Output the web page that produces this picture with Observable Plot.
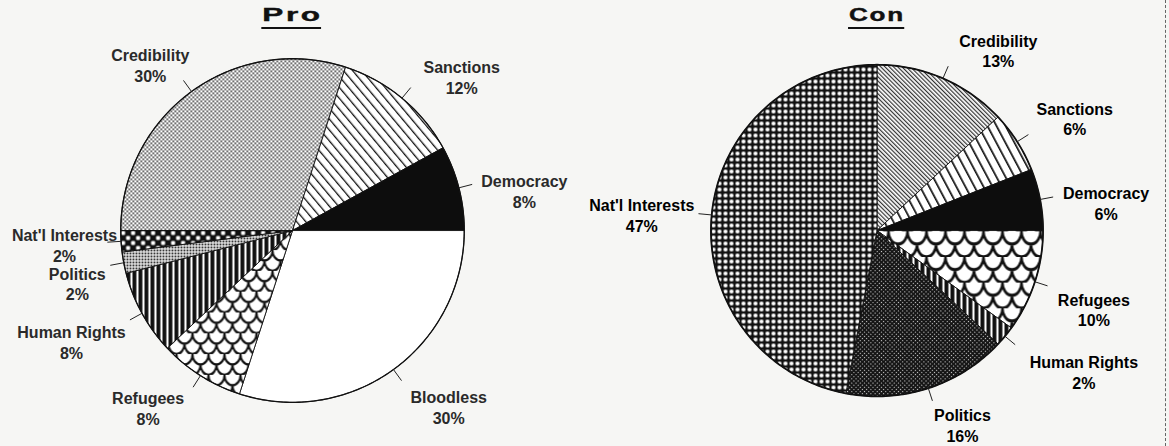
<!DOCTYPE html>
<html><head><meta charset="utf-8">
<script src="https://cdn.jsdelivr.net/npm/d3@7"></script>
<script src="https://cdn.jsdelivr.net/npm/@observablehq/plot@0.6"></script>
<style>
html,body{margin:0;padding:0;background:#f6f6f4;}
#wrap{position:relative;width:1169px;height:446px;display:flex;overflow:hidden;background:#f6f6f4;}
#wrap svg{display:block;}
.edge{position:absolute;top:0;bottom:0;left:1165px;width:0;border-left:1px dashed #666;}
</style></head><body>
<svg width="0" height="0" style="position:absolute">
<defs>
  <pattern id="proCred" width="4" height="4" patternUnits="userSpaceOnUse">
    <rect width="4" height="4" fill="#fff"/>
    <rect x="0" y="0" width="1.6" height="1.6" fill="#222"/>
    <rect x="2" y="2" width="1.6" height="1.6" fill="#222"/>
  </pattern>
  <pattern id="conCred" width="3" height="3" patternUnits="userSpaceOnUse" patternTransform="rotate(-45)">
    <rect width="3" height="3" fill="#fff"/>
    <rect x="0" y="0" width="1.2" height="3" fill="#333"/>
  </pattern>
  <pattern id="proSanc" width="7" height="7" patternUnits="userSpaceOnUse" patternTransform="rotate(-40)">
    <rect width="7" height="7" fill="#fff"/>
    <rect x="0" y="0" width="1.3" height="7" fill="#111"/>
  </pattern>
  <pattern id="conSanc" width="8" height="8" patternUnits="userSpaceOnUse" patternTransform="rotate(-28)">
    <rect width="8" height="8" fill="#fff"/>
    <rect x="0" y="0" width="1.7" height="8" fill="#111"/>
  </pattern>
  <pattern id="proRef" width="16" height="16" patternUnits="userSpaceOnUse" patternTransform="scale(1,1.3)">
    <rect width="16" height="16" fill="#fff"/>
    <path d="M0,0 A8,8 0 0 0 16,0 M-8,8 A8,8 0 0 0 8,8 M8,8 A8,8 0 0 0 24,8" fill="none" stroke="#111" stroke-width="2"/>
  </pattern>
  <pattern id="conRef" width="19" height="19" patternUnits="userSpaceOnUse" patternTransform="scale(1,1.35)">
    <rect width="19" height="19" fill="#fff"/>
    <path d="M0,0 A9.5,9.5 0 0 0 19,0 M-9.5,9.5 A9.5,9.5 0 0 0 9.5,9.5 M9.5,9.5 A9.5,9.5 0 0 0 28.5,9.5" fill="none" stroke="#111" stroke-width="2.4"/>
  </pattern>
  <pattern id="hr" width="6" height="6" patternUnits="userSpaceOnUse">
    <rect width="6" height="6" fill="#fff"/>
    <rect x="0" y="0" width="3.9" height="6" fill="#111"/>
  </pattern>
  <pattern id="proPol" width="3" height="3" patternUnits="userSpaceOnUse">
    <rect width="3" height="3" fill="#fff"/>
    <rect x="0" y="0" width="1.9" height="1.9" fill="#222"/>
  </pattern>
  <pattern id="conPol" width="3" height="3" patternUnits="userSpaceOnUse" patternTransform="rotate(45)">
    <rect width="3" height="3" fill="#141414"/>
    <rect x="0" y="0" width="1.1" height="1.1" fill="#ccc"/>
  </pattern>
  <pattern id="proNI" width="10" height="10" patternUnits="userSpaceOnUse">
    <rect width="10" height="10" fill="#111"/>
    <rect x="0.6" y="0.6" width="4" height="4" rx="1" fill="#fff"/>
    <rect x="5.6" y="5.6" width="4" height="4" rx="1" fill="#fff"/>
  </pattern>
  <pattern id="conNI" width="6" height="6" patternUnits="userSpaceOnUse">
    <rect width="6" height="6" fill="#111"/>
    <circle cx="3" cy="3" r="2.1" fill="#fff"/>
  </pattern>
</defs>
</svg>
<div id="wrap"><div class="edge"></div></div>
<script>
// ---- data ----
const categories = ["Credibility", "Sanctions", "Democracy", "Bloodless", "Refugees", "Human Rights", "Politics", "Nat'l Interests"];
const proValues = [30, 12, 8, 30, 8, 8, 2, 2];
const conValues = [13, 6, 6, 0, 10, 2, 16, 47];
const pieTitles = ["Pro", "Con"];

// ---- styling / layout (not data) ----
const fills = {
  Pro: {"Credibility":"url(#proCred)","Sanctions":"url(#proSanc)","Democracy":"#0d0d0d","Bloodless":"#ffffff","Refugees":"url(#proRef)","Human Rights":"url(#hr)","Politics":"url(#proPol)","Nat'l Interests":"url(#proNI)"},
  Con: {"Credibility":"url(#conCred)","Sanctions":"url(#conSanc)","Democracy":"#0d0d0d","Bloodless":"#ffffff","Refugees":"url(#conRef)","Human Rights":"url(#hr)","Politics":"url(#conPol)","Nat'l Interests":"url(#conNI)"}
};
// label nudges: angle offset (deg) from slice mid-angle, distance in pie radii
const labelNudge = {
  Pro: {"Credibility":[-4.7,1.27],"Sanctions":[8.2,1.33],"Democracy":[4.6,1.37],"Bloodless":[-5.6,1.37],"Refugees":[6.8,1.33],"Human Rights":[2.1,1.44],"Politics":[-3,1.29],"Nat'l Interests":[0.1,1.33]},
  Con: {"Credibility":[10.5,1.31],"Sanctions":[2.8,1.37],"Democracy":[3.8,1.39],"Refugees":[2,1.39],"Human Rights":[-5.2,1.51],"Politics":[-5.7,1.28],"Nat'l Interests":[-1.5,1.42]}
};
const pies = [
  {title: pieTitles[0], values: proValues, start: 180, radius: 1.0, width: 584, textFill: "#2a2a2a", titleScale: 1.75, titleSpacing: 1.5},
  {title: pieTitles[1], values: conValues, start: 270, radius: 0.965, width: 585, textFill: "#000", titleScale: 1.45, titleSpacing: 1.2}
];
const rad = a => a * Math.PI / 180;

function makeSlices(values, start) {
  const total = d3.sum(values);
  let acc = start;
  return categories.map((c, i) => {
    const a0 = acc, a1 = acc + values[i] / total * 360;
    acc = a1;
    return {category: c, value: values[i], a0, a1, mid: (a0 + a1) / 2};
  }).filter(d => d.value > 0);
}
function outline(s, r) {
  const pts = [{x: 0, y: 0}];
  const n = Math.max(2, Math.ceil(s.a1 - s.a0));
  for (let k = 0; k <= n; k++) {
    const a = rad(s.a0 + (s.a1 - s.a0) * k / n);
    pts.push({x: r * Math.cos(a), y: r * Math.sin(a)});
  }
  pts.push({x: 0, y: 0});
  return pts;
}

const wrap = document.getElementById("wrap");
for (const pie of pies) {
  const r = pie.radius;
  const sl = makeSlices(pie.values, pie.start);
  const ring = d3.range(0, 361, 1).map(a => ({x: r * Math.cos(rad(a)), y: r * Math.sin(rad(a))}));
  const marks = [];
  for (const s of sl) {
    marks.push(Plot.line(outline(s, r), {x: "x", y: "y", fill: fills[pie.title][s.category], stroke: "#111", strokeWidth: 0.9, strokeLinejoin: "round"}));
  }
  marks.push(Plot.line(ring, {x: "x", y: "y", stroke: "#111", strokeWidth: pie.title === "Con" ? 1.8 : 1.3}));
  marks.push(Plot.link(sl, {
    x1: d => r * Math.cos(rad(d.mid)), y1: d => r * Math.sin(rad(d.mid)),
    x2: d => r * 1.08 * Math.cos(rad(d.mid)), y2: d => r * 1.08 * Math.sin(rad(d.mid)),
    stroke: "#222", strokeWidth: 1
  }));
  marks.push(Plot.text(sl, {
    x: d => { const [da, k] = labelNudge[pie.title][d.category]; return r * k * Math.cos(rad(d.mid + da)); },
    y: d => { const [da, k] = labelNudge[pie.title][d.category]; return r * k * Math.sin(rad(d.mid + da)); },
    text: d => `${d.category}\n${d.value}%`,
    fontSize: 16, fontWeight: "bold", lineHeight: 1.3, fill: pie.textFill,
    fontFamily: "Liberation Sans, Arial, sans-serif"
  }));
  marks.push(Plot.text([pie.title], {frameAnchor: "top", dy: 20, lineAnchor: "middle", text: d => d,
    fontSize: 18, fontWeight: "bold", fill: "#111", fontFamily: "Liberation Sans, Arial, sans-serif"}));

  const svg = Plot.plot({
    width: pie.width, height: 446, margin: 0,
    style: {background: "transparent", overflow: "visible"},
    x: {domain: [-1.7, 1.7], axis: null},
    y: {domain: [-1.339, 1.257], reverse: true, axis: null},
    marks
  });
  wrap.appendChild(svg);
  d3.select(svg).selectAll("text").filter(function () { return this.textContent === pie.title && this.children.length === 0; })
    .each(function () {
      const t = this.getAttribute("transform") || "";
      const x = +this.getAttribute("x") || 0, y = +this.getAttribute("y") || 0;
      this.removeAttribute("x"); this.removeAttribute("y");
      this.setAttribute("transform", `${t} translate(${x},${y}) scale(${pie.titleScale},1)`);
      this.style.letterSpacing = pie.titleSpacing + "px";
      this.style.stroke = "#111";
      this.style.strokeWidth = "0.4px";
      // underline derived from the rendered title's box
      const sr = svg.getBoundingClientRect(), b = this.getBoundingClientRect();
      d3.select(svg).append("rect")
        .attr("x", b.left - sr.left - 1).attr("y", 27)
        .attr("width", b.width - pie.titleSpacing * pie.titleScale + 2).attr("height", 2)
        .attr("fill", "#111");
    });
}
</script>
</body></html>
